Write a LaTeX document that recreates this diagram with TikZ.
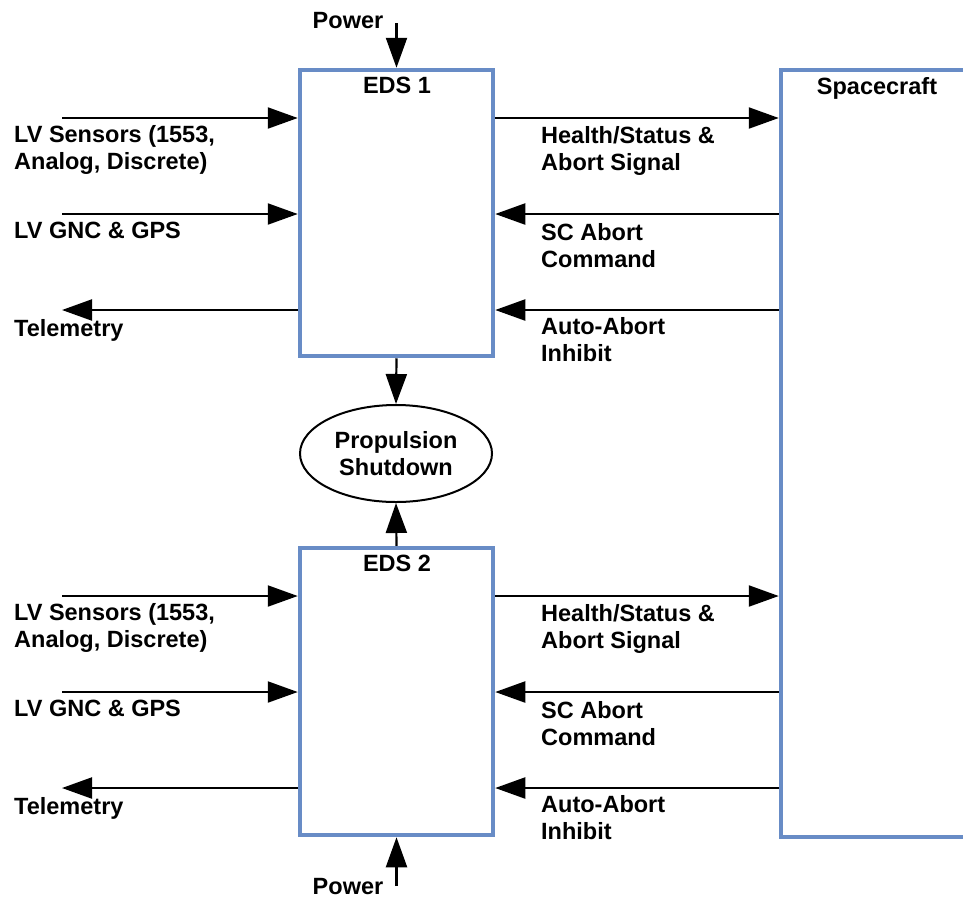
\documentclass[tikz,border=0pt]{standalone}
\usepackage{fontspec}
\setmainfont{Liberation Sans}
\usetikzlibrary{arrows.meta,shapes.geometric}
\definecolor{boxblue}{RGB}{104,140,198}
\tikzset{
  blockbox/.style={draw=boxblue, line width=4.5pt, rectangle, inner sep=0pt, fill=white},
  arr/.style={line width=2.2pt, -{Triangle[length=30pt,width=21pt]}},
  lbl/.style={inner sep=0pt, font=\bfseries\fontsize{23.5}{27}\selectfont, align=left},
  title/.style={inner sep=0pt, font=\bfseries\fontsize{23.5}{27}\selectfont}
}
\begin{document}
\begin{tikzpicture}[x=1pt,y=-1pt]
\useasboundingbox (0,0) rectangle (963,898);
\clip (0,0) rectangle (963,898);

% processing units and spacecraft
\node[blockbox, minimum width=193pt, minimum height=286pt] (eds1) at (396.5,213) {};
\node[blockbox, minimum width=193pt, minimum height=287pt] (eds2) at (396.5,691.5) {};
\node[blockbox, minimum width=229pt, minimum height=767pt] (sc) at (895.5,453.5) {};
\node[title, anchor=base] (eds1t) at (397,93) {EDS 1};
\node[title, anchor=base] (eds2t) at (397,571) {EDS 2};
\node[title, anchor=base] (sct) at (877,94) {Spacecraft};

% shared shutdown output
\node[draw, ellipse, line width=2pt, minimum width=192pt, minimum height=97pt, inner sep=0pt,
      font=\bfseries\fontsize{23.5}{27}\selectfont, align=center] (ps) at (396,453.5) {Propulsion\\Shutdown};
\draw[arr] (eds1.south) -- (ps.north);
\draw[arr] (eds2.north) -- (ps.south);

% power feeds
\coordinate (pw1) at (396.5,23);
\coordinate (pw2) at (396.5,886);
\draw[arr] (pw1) -- (eds1.north);
\draw[arr] (pw2) -- (eds2.south);
\node[title, anchor=base] (pw1t) at (348,28) {Power};
\node[title, anchor=base] (pw2t) at (348,894) {Power};

% launch vehicle side, EDS 1 (multi-line labels are anchored on their last line)
\coordinate (s1) at (62,118);
\coordinate (g1) at (62,214);
\coordinate (t1) at (62,310);
\draw[arr] (s1) -- (s1 -| eds1.west);
\draw[arr] (g1) -- (g1 -| eds1.west);
\draw[arr] (t1 -| eds1.west) -- (t1);
\node[lbl, anchor=base west] (s1t) at (14,169.5) {LV Sensors (1553,\\Analog, Discrete)};
\node[lbl, anchor=base west] (g1t) at (14,238) {LV GNC \& GPS};
\node[lbl, anchor=base west] (t1t) at (14,336) {Telemetry};

% launch vehicle side, EDS 2
\coordinate (s2) at (62,596);
\coordinate (g2) at (62,692);
\coordinate (t2) at (62,788);
\draw[arr] (s2) -- (s2 -| eds2.west);
\draw[arr] (g2) -- (g2 -| eds2.west);
\draw[arr] (t2 -| eds2.west) -- (t2);
\node[lbl, anchor=base west] (s2t) at (14,647.5) {LV Sensors (1553,\\Analog, Discrete)};
\node[lbl, anchor=base west] (g2t) at (14,716) {LV GNC \& GPS};
\node[lbl, anchor=base west] (t2t) at (14,814) {Telemetry};

% spacecraft interface, EDS 1
\draw[arr] (eds1.east |- s1) -- (sc.west |- s1);
\draw[arr] (sc.west |- g1) -- (eds1.east |- g1);
\draw[arr] (sc.west |- t1) -- (eds1.east |- t1);
\node[lbl, anchor=base west] (h1t) at (541,170) {Health/Status \&\\Abort Signal};
\node[lbl, anchor=base west] (a1t) at (541,267) {SC Abort\\Command};
\node[lbl, anchor=base west] (i1t) at (541,361) {Auto-Abort\\Inhibit};

% spacecraft interface, EDS 2
\draw[arr] (eds2.east |- s2) -- (sc.west |- s2);
\draw[arr] (sc.west |- g2) -- (eds2.east |- g2);
\draw[arr] (sc.west |- t2) -- (eds2.east |- t2);
\node[lbl, anchor=base west] (h2t) at (541,648) {Health/Status \&\\Abort Signal};
\node[lbl, anchor=base west] (a2t) at (541,745) {SC Abort\\Command};
\node[lbl, anchor=base west] (i2t) at (541,839) {Auto-Abort\\Inhibit};
\end{tikzpicture}
\end{document}
